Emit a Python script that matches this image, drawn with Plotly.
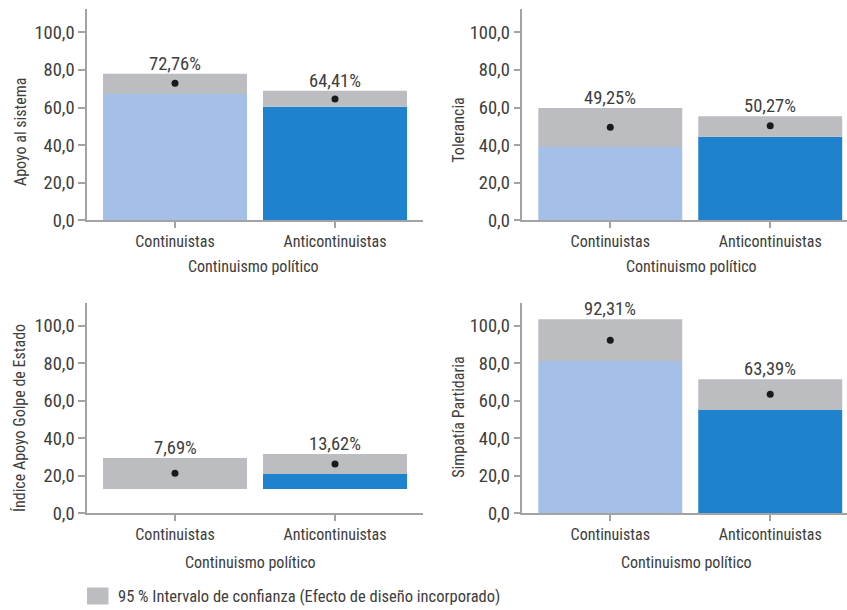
import plotly.graph_objects as go

W, H = 847, 610

categories = ["Continuistas", "Anticontinuistas"]

titles = ["Apoyo al sistema", "Tolerancia", "Índice Apoyo Golpe de Estado", "Simpatía Partidaria"]
labels_1 = ["72,76%", "64,41%"]
labels_2 = ["49,25%", "50,27%"]
labels_3 = ["7,69%", "13,62%"]
labels_4 = ["92,31%", "63,39%"]

point_1 = [72.9, 64.5]
point_2 = [49.5, 50.3]
point_3 = [21.3, 26.3]
point_4 = [92.2, 63.4]

lower_1 = [67.2, 60.4]
lower_2 = [39.0, 44.5]
lower_3 = [13.0, 20.9]
lower_4 = [81.2, 55.1]

upper_1 = [78.0, 68.9]
upper_2 = [59.7, 55.3]
upper_3 = [29.5, 31.6]
upper_4 = [103.4, 71.4]

base_1 = [0.0, 0.0]
base_2 = [0.0, 0.0]
base_3 = [13.0, 13.0]
base_4 = [0.0, 0.0]

x_title = "Continuismo político"
legend_text = "95 % Intervalo de confianza (Efecto de diseño incorporado)"
y_ticks = [0, 20, 40, 60, 80, 100]

panels = [
    (labels_1, point_1, lower_1, upper_1, base_1),
    (labels_2, point_2, lower_2, upper_2, base_2),
    (labels_3, point_3, lower_3, upper_3, base_3),
    (labels_4, point_4, lower_4, upper_4, base_4),
]

FONT = "Roboto Condensed, Roboto, Liberation Sans, sans-serif"
WORD = 16
NUM = 18.5
TXT = "#3d3d3d"
AX = "#a3a3a3"
LIGHT = "#a4bfe8"
DARK = "#1e82ce"
GRAY = "#bcbdc1"
DOT = "#1a1a1a"

# pixel layout (x from left, y from top)
xdom_px = [(87, 423), (522.3, 847), (87, 423), (522.3, 847)]
ydom_px = [(9, 220.3), (9, 220.3), (303.3, 513.3), (303.3, 513.3)]
xranges = [[-0.55, 1.55], [-0.55, 1.48], [-0.55, 1.55], [-0.55, 1.48]]
yranges = [[0, 112.4], [0, 112.4], [0, 111.9], [0, 111.9]]
ytitle_pos = [(21, 132), (457.7, 130), (19, 418), (457.7, 417)]
xtitle_pos = [(253, 266), (691, 266), (251, 562), (686, 562)]

fig = go.Figure()
annotations = []

for i, (labs, pts, lo, up, bs) in enumerate(panels):
    ax = "" if i == 0 else str(i + 1)
    xa, ya = "x" + ax, "y" + ax
    fig.add_trace(go.Bar(
        x=categories, y=[l - b for l, b in zip(lo, bs)], base=bs,
        marker=dict(color=[LIGHT, DARK], line=dict(width=0)),
        width=0.9, xaxis=xa, yaxis=ya, showlegend=False, hoverinfo="skip"))
    fig.add_trace(go.Bar(
        x=categories, y=[u - l for u, l in zip(up, lo)], base=lo,
        marker=dict(color=GRAY, line=dict(width=0)),
        width=0.9, xaxis=xa, yaxis=ya, showlegend=False, hoverinfo="skip"))
    fig.add_trace(go.Scatter(
        x=categories, y=pts, mode="markers",
        marker=dict(color=DOT, size=7), xaxis=xa, yaxis=ya,
        showlegend=False, hoverinfo="skip"))
    for c, u, t in zip(categories, up, labs):
        annotations.append(dict(x=c, y=u, xref=xa, yref=ya, text=t, showarrow=False,
                                yanchor="middle", yshift=10,
                                font=dict(family=FONT, size=NUM, color=TXT)))
    x0, x1 = xdom_px[i]
    y0, y1 = ydom_px[i]
    key = "" if i == 0 else str(i + 1)
    fig.layout["xaxis" + key] = dict(
        domain=[x0 / W, x1 / W], range=xranges[i], anchor=ya, automargin=False,
        showline=True, linecolor=AX, linewidth=1.5, ticks="outside", ticklen=6,
        tickcolor=AX, tickwidth=1.5, showgrid=False, zeroline=False,
        tickfont=dict(family=FONT, size=WORD, color=TXT), fixedrange=True)
    fig.layout["yaxis" + key] = dict(
        domain=[1 - y1 / H, 1 - y0 / H], range=yranges[i], anchor=xa, automargin=False,
        showline=True, linecolor=AX, linewidth=1.5, ticks="outside", ticklen=7,
        tickcolor=AX, tickwidth=1.5, showgrid=False, zeroline=False,
        tickvals=y_ticks, tickformat=".1f",
        tickfont=dict(family=FONT, size=NUM, color=TXT), fixedrange=True)
    tx, ty = ytitle_pos[i]
    annotations.append(dict(x=tx / W, y=1 - ty / H, xref="paper", yref="paper",
                            text=titles[i], textangle=-90, showarrow=False,
                            xanchor="center", yanchor="middle",
                            font=dict(family=FONT, size=WORD, color=TXT)))
    tx, ty = xtitle_pos[i]
    annotations.append(dict(x=tx / W, y=1 - ty / H, xref="paper", yref="paper",
                            text=x_title, showarrow=False,
                            xanchor="center", yanchor="middle",
                            font=dict(family=FONT, size=WORD, color=TXT)))

# legend
annotations.append(dict(x=116 / W, y=1 - 596 / H, xref="paper", yref="paper",
                        text=legend_text, showarrow=False, xanchor="left", yanchor="middle",
                        font=dict(family=FONT, size=16.5, color=TXT)))
shapes = [dict(type="rect", xref="paper", yref="paper",
               x0=87 / W, x1=108.5 / W, y0=1 - 604.5 / H, y1=1 - 587.5 / H,
               fillcolor=GRAY, line=dict(width=0))]

fig.update_layout(
    width=W, height=H, margin=dict(l=0, r=0, t=0, b=0),
    paper_bgcolor="white", plot_bgcolor="white",
    barmode="overlay", separators=",.",
    annotations=annotations, shapes=shapes,
    font=dict(family=FONT, color=TXT),
)

fig.write_html("out.html", config={"displayModeBar": False},
               post_script="document.body.style.margin='0';document.body.style.padding='0';")
